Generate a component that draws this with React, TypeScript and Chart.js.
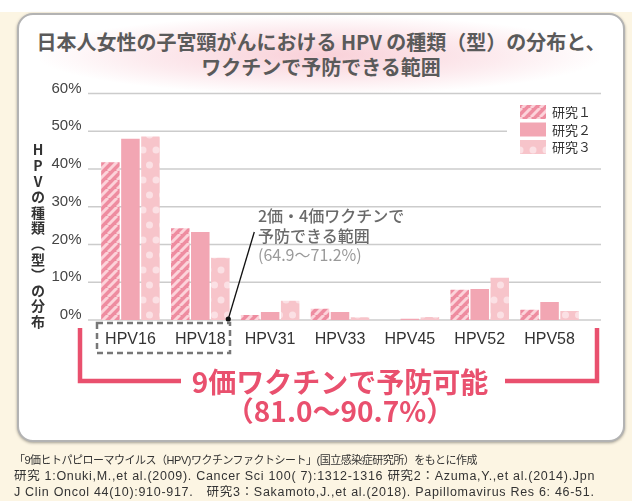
import React, { useEffect, useRef } from "react";
import { Chart, registerables } from "chart.js";
Chart.register(...registerables);

const categories = ["HPV16", "HPV18", "HPV31", "HPV33", "HPV45", "HPV52", "HPV58"];
const study1 = [41.8, 24.3, 1.3, 3.0, 0, 8.0, 2.7];
const study2 = [48.0, 23.3, 2.1, 2.1, 0.3, 8.2, 4.8];
const study3 = [48.6, 16.5, 5.1, 0.7, 0.8, 11.2, 2.4];
const seriesNames = ["研究１", "研究２", "研究３"];
const yTicks = [0, 10, 20, 30, 40, 50, 60];

const LATIN = "'Liberation Sans', Arial, sans-serif";
const JP = "'Noto Sans CJK JP', sans-serif";
const PINK = "#e9506e";

function stripePattern(): CanvasPattern | string {
  const c = document.createElement("canvas");
  const s = 9;
  c.width = s;
  c.height = s;
  const g = c.getContext("2d")!;
  g.fillStyle = "#ee8ca0";
  g.fillRect(0, 0, s, s);
  g.strokeStyle = "#fcd3da";
  g.lineWidth = 3;
  for (const o of [-s, 0, s]) {
    g.beginPath();
    g.moveTo(o, s);
    g.lineTo(o + s, 0);
    g.stroke();
  }
  return g.createPattern(c, "repeat") || "#ee8ca0";
}

function dotPattern(): CanvasPattern | string {
  const c = document.createElement("canvas");
  const w = 13;
  const h = 30;
  c.width = w;
  c.height = h;
  const g = c.getContext("2d")!;
  g.fillStyle = "#f7c4ca";
  g.fillRect(0, 0, w, h);
  g.fillStyle = "#fbe0e4";
  const pts = [
    [0, 0], [w, 0], [0, h], [w, h], [w / 2, h / 2],
  ];
  for (const [x, y] of pts) {
    g.beginPath();
    g.arc(x, y, 3.5, 0, Math.PI * 2);
    g.fill();
  }
  return g.createPattern(c, "repeat") || "#f7c4ca";
}

export default function App() {
  const ref = useRef<HTMLCanvasElement | null>(null);

  useEffect(() => {
    if (!ref.current) return;
    const p1 = stripePattern();
    const p2 = "#f2a6b3";
    const p3 = dotPattern();
    const fills = [p1, p2, p3];

    const gridPlugin = {
      id: "customGrid",
      beforeDatasetsDraw(chart: any) {
        const ctx = chart.ctx;
        const ys = chart.scales.y;
        ctx.save();
        ctx.strokeStyle = "#cccccc";
        ctx.lineWidth = 1.5;
        for (const v of yTicks) {
          const y = ys.getPixelForValue(v);
          ctx.beginPath();
          ctx.moveTo(88, y);
          ctx.lineTo(601, y);
          ctx.stroke();
        }
        ctx.restore();
      },
    };

    const decoPlugin = {
      id: "deco",
      afterDraw(chart: any) {
        const ctx = chart.ctx;
        const xs = chart.scales.x;
        const ys = chart.scales.y;
        ctx.save();
        // legend
        ctx.fillStyle = "#ffffff";
        ctx.fillRect(507, 100, 94, 58);
        for (let i = 0; i < 3; i++) {
          const y = 105 + i * 17.5;
          ctx.fillStyle = fills[i] as any;
          ctx.fillRect(520, y, 26, 14);
          ctx.fillStyle = "#333333";
          ctx.font = `13px ${JP}`;
          ctx.textBaseline = "middle";
          ctx.textAlign = "left";
          ctx.fillText(seriesNames[i], 552, y + 7.5);
        }
        // annotation line from HPV18 group edge
        const x0 = xs.getPixelForValue(1) + 28;
        const y0 = ys.getPixelForValue(0) - 1;
        ctx.strokeStyle = "#111111";
        ctx.lineWidth = 1.3;
        ctx.beginPath();
        ctx.moveTo(x0, y0);
        ctx.lineTo(x0 + 26, 232);
        ctx.stroke();
        ctx.fillStyle = "#111111";
        ctx.beginPath();
        ctx.arc(x0, y0, 2.6, 0, Math.PI * 2);
        ctx.fill();
        // dashed box
        ctx.strokeStyle = "#777777";
        ctx.lineWidth = 2.5;
        ctx.setLineDash([6, 4]);
        ctx.strokeRect(97, 323, 133, 30);
        ctx.setLineDash([]);
        // pink bracket
        ctx.strokeStyle = PINK;
        ctx.lineWidth = 4.5;
        ctx.lineJoin = "miter";
        ctx.beginPath();
        ctx.moveTo(80, 328);
        ctx.lineTo(80, 381);
        ctx.lineTo(181, 381);
        ctx.stroke();
        ctx.beginPath();
        ctx.moveTo(505, 381);
        ctx.lineTo(597, 381);
        ctx.lineTo(597, 328);
        ctx.stroke();
        ctx.restore();
      },
    };

    const chart = new Chart(ref.current, {
      type: "bar",
      data: {
        labels: categories,
        datasets: [study1, study2, study3].map((d, i) => ({
          label: seriesNames[i],
          data: d,
          backgroundColor: fills[i] as any,
          borderWidth: 0,
          categoryPercentage: 0.86,
          barPercentage: 0.925,
        })),
      },
      options: {
        responsive: false,
        animation: false,
        devicePixelRatio: 1,
        layout: { padding: { left: 0, right: 47.5, top: 93.5, bottom: 141 } },
        plugins: { legend: { display: false }, tooltip: { enabled: false } },
        scales: {
          x: {
            grid: { display: false, drawTicks: false },
            border: { display: false },
            ticks: {
              font: { family: LATIN, size: 16 },
              color: "#333333",
              padding: 10,
              maxRotation: 0,
              autoSkip: false,
            },
            afterFit(s: any) {
              s.height = 40;
            },
          },
          y: {
            min: 0,
            max: 60,
            grid: { display: false, drawTicks: false },
            border: { display: false },
            ticks: {
              stepSize: 10,
              callback: (v: any) => v + "%",
              font: { family: LATIN, size: 15 },
              color: "#444444",
              padding: 14,
              labelOffset: -5,
            },
            afterFit(s: any) {
              s.width = 95.5;
            },
          },
        },
      },
      plugins: [gridPlugin, decoPlugin],
    });
    return () => chart.destroy();
  }, []);

  const abs: React.CSSProperties = { position: "absolute", pointerEvents: "none" };

  return (
    <div
      style={{
        position: "fixed",
        left: 0,
        top: 0,
        width: 632,
        height: 501,
        overflow: "hidden",
        background: "#ffffff",
      }}
    >
      <div style={{ ...abs, left: 0, top: 12, width: 632, height: 489, background: "#fcf5e3" }} />
      <div
        style={{
          ...abs,
          left: 17,
          top: 13,
          width: 604,
          height: 425,
          borderRadius: 16,
          border: "2px solid #b3b3b3",
          boxShadow: "0 1px 3px rgba(0,0,0,0.35)",
          background: "#ffffff",
        }}
      />
      <div
        style={{
          ...abs,
          left: 40,
          top: 16,
          width: 560,
          height: 78,
          background:
            "radial-gradient(ellipse at center, rgba(247,196,206,0.8) 0%, rgba(250,215,222,0.5) 45%, rgba(255,255,255,0) 72%)",
        }}
      />
      <div
        style={{
          ...abs,
          left: 17,
          top: 28.5,
          width: 608,
          textAlign: "center",
          fontFamily: JP,
          fontWeight: 700,
          fontSize: 20,
          lineHeight: "25.5px",
          color: "#5a5a5a",
          whiteSpace: "nowrap",
        }}
      >
        <div>日本人女性の子宮頸がんにおける HPV の種類（型）の分布と、</div>
        <div>ワクチンで予防できる範囲</div>
      </div>
      <canvas
        ref={ref}
        width={632}
        height={501}
        style={{ position: "absolute", left: 0, top: 0, width: 632, height: 501 }}
      />
      <div
        style={{
          ...abs,
          left: 31,
          top: 143,
          writingMode: "vertical-rl",
          textOrientation: "upright",
          fontFamily: JP,
          fontWeight: 700,
          fontSize: 14,
          lineHeight: 1,
          letterSpacing: "1.6px",
          color: "#333333",
          whiteSpace: "nowrap",
        }}
      >
        HPVの種類（型）の分布
      </div>
      <div
        style={{
          ...abs,
          left: 258,
          top: 206,
          fontFamily: JP,
          fontSize: 16,
          lineHeight: "19.5px",
          fontWeight: 500,
          color: "#6a6a6a",
          whiteSpace: "nowrap",
        }}
      >
        <div>2価・4価ワクチンで</div>
        <div>予防できる範囲</div>
        <div style={{ color: "#9a9a9a", fontWeight: 400 }}>(64.9〜71.2%)</div>
      </div>
      <div
        style={{
          ...abs,
          left: 140,
          top: 367,
          width: 400,
          textAlign: "center",
          fontFamily: JP,
          fontWeight: 700,
          fontSize: 28,
          lineHeight: "29px",
          color: PINK,
          whiteSpace: "nowrap",
        }}
      >
        <div>9価ワクチンで予防可能</div>
        <div>（81.0〜90.7%）</div>
      </div>
      <div
        style={{
          ...abs,
          left: 14,
          top: 452,
          fontFamily: `'Liberation Sans', 'Noto Sans CJK JP', sans-serif`,
          lineHeight: "16px",
          color: "#333333",
          whiteSpace: "nowrap",
        }}
      >
        <div style={{ fontSize: 11, letterSpacing: "-0.5px" }}>
          「9価ヒトパピローマウイルス（HPV)ワクチンファクトシート」(国立感染症研究所）をもとに作成
        </div>
        <div style={{ fontSize: 12.5, letterSpacing: "0.7px" }}>
          研究 1:Onuki,M.,et al.(2009). Cancer Sci 100( 7):1312-1316 研究2：Azuma,Y.,et al.(2014).Jpn
        </div>
        <div style={{ fontSize: 12.5, letterSpacing: "0.7px" }}>
          J Clin Oncol 44(10):910-917.　研究3：Sakamoto,J.,et al.(2018). Papillomavirus Res 6: 46-51.
        </div>
      </div>
    </div>
  );
}
